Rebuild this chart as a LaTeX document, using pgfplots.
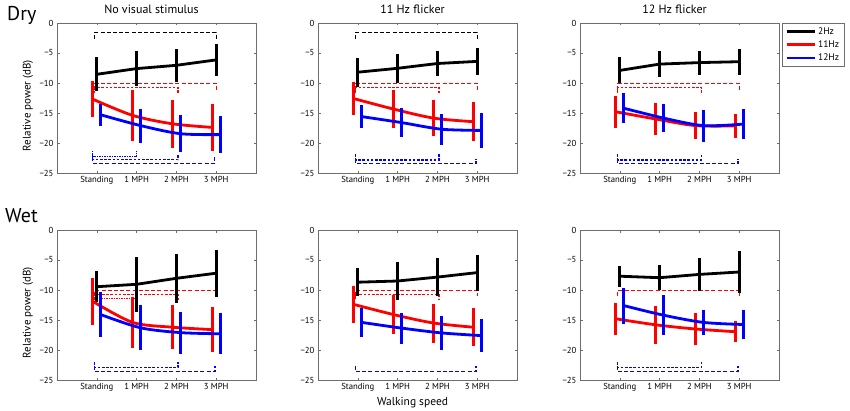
\documentclass[border=0pt]{standalone}
\usepackage{pgfplots}
\pgfplotsset{compat=1.18}
\usepackage{fontspec}
\setmainfont{PT Sans}
\definecolor{mred}{RGB}{255,0,0}
\definecolor{mblue}{RGB}{0,0,255}
\definecolor{frm}{RGB}{110,110,110}
\pgfplotsset{
 panel/.style={
  scale only axis, width=199pt, height=150pt,
  xmin=0, xmax=5, ymin=-25, ymax=0,
  xtick={1,2,3,4}, xticklabels={Standing,1 MPH,2 MPH,3 MPH},
  ytick={-25,-20,-15,-10,-5,0},
  yticklabels={−25,−20,−15,−10,−5,0},
  tick align=inside, major tick length=2.5pt,
  axis line style={frm, line width=0.6pt},
  every tick/.style={frm, line width=0.6pt},
  tick label style={font=\fontsize{8.7}{10}\selectfont},
  title style={font=\fontsize{12}{14}\selectfont, at={(0.475,1)}, anchor=south, yshift=0pt},
  ylabel style={font=\fontsize{11}{13}\selectfont, at={(axis description cs:-0.146,0.45)}, anchor=center},
 },
 dat/.style={line width=2.8pt, mark=none, forget plot,
   error bars/y dir=both, error bars/y explicit, error bars/error mark=none,
   error bars/error bar style={line width=3pt, solid}},
 br/.style={line width=1.3pt, mark=none, forget plot},
 longd/.style={br, dash pattern=on 4pt off 2.2pt},
 shortd/.style={br, dash pattern=on 2.6pt off 1.6pt},
 dotd/.style={br, dash pattern=on 1.3pt off 1.2pt},
}
\begin{document}
\begin{tikzpicture}
\path[use as bounding box] (0,0) rectangle (850pt,410pt);

% ---------------- Dry, No visual stimulus
\begin{axis}[panel, at={(57pt,237pt)}, anchor=south west,
  title={No visual stimulus}, ylabel={Relative power (dB)}]
\addplot[draw=black, longd] coordinates {(0.95,-2.65) (0.95,-1.55) (4,-1.55) (4,-2.65)};
\addplot[draw=mred, longd] coordinates {(0.95,-11.1) (0.95,-10.05) (4,-10.05) (4,-11.1)};
\addplot[draw=mred, shortd] coordinates {(0.95,-11.7) (0.95,-10.7) (3.04,-10.7) (3.04,-11.7)};
\addplot[draw=mblue, dotd] coordinates {(0.9,-21.3) (0.9,-22.3) (2,-22.3) (2,-21.3)};
\addplot[draw=mblue, shortd] coordinates {(0.9,-21.9) (0.9,-22.8) (3.04,-22.8) (3.04,-21.9)};
\addplot[draw=mblue, longd] coordinates {(0.9,-22.4) (0.9,-23.4) (3.95,-23.4) (3.95,-22.4)};
\addplot[black, dat] coordinates {(1,-8.55) +- (0,2.8) (2,-7.6) +- (0,2.85) (3,-7.05) +- (0,2.75) (4,-6.15) +- (0,2.65)};
\addplot[mred, smooth, dat] coordinates {(0.9,-12.7) +- (0,3.0) (1.9,-15.4) +- (0,4.3) (2.9,-16.8) +- (0,4.0) (3.9,-17.4) +- (0,3.9)};
\addplot[mblue, smooth, dat] coordinates {(1.1,-15.3) +- (0,1.8) (2.1,-17.1) +- (0,2.85) (3.1,-18.45) +- (0,3.1) (4.1,-18.6) +- (0,3.1)};
\end{axis}

% ---------------- Dry, 11 Hz flicker
\begin{axis}[panel, at={(318pt,237pt)}, anchor=south west, title={11 Hz flicker}]
\addplot[draw=black, longd] coordinates {(0.95,-2.65) (0.95,-1.55) (4,-1.55) (4,-2.65)};
\addplot[draw=mred, longd] coordinates {(0.95,-11.1) (0.95,-10.05) (4,-10.05) (4,-11.1)};
\addplot[draw=mred, shortd] coordinates {(0.95,-11.65) (0.95,-10.7) (3.04,-10.7) (3.04,-11.65)};
\addplot[draw=mblue, shortd] coordinates {(0.95,-21.85) (0.95,-22.85) (3.04,-22.85) (3.04,-21.85)};
\addplot[draw=mblue, longd] coordinates {(0.95,-22.6) (0.95,-23.45) (3.97,-23.45) (3.97,-22.6)};
\addplot[black, dat] coordinates {(1,-8.2) +- (0,2.4) (2,-7.55) +- (0,2.4) (3,-6.75) +- (0,2.05) (4,-6.4) +- (0,2.2)};
\addplot[mred, smooth, dat] coordinates {(0.9,-12.6) +- (0,2.7) (1.9,-14.35) +- (0,3.15) (2.9,-15.85) +- (0,3.05) (3.9,-16.45) +- (0,3.25)};
\addplot[mblue, smooth, dat] coordinates {(1.1,-15.6) +- (0,1.9) (2.1,-16.6) +- (0,2.4) (3.1,-17.7) +- (0,2.6) (4.1,-17.9) +- (0,2.9)};
\end{axis}

% ---------------- Dry, 12 Hz flicker
\begin{axis}[panel, at={(580pt,237pt)}, anchor=south west, title={12 Hz flicker},
  legend style={at={(1.015,1)}, anchor=north west, draw=frm, line width=0.6pt,
    font=\fontsize{9.5}{11}\selectfont, inner xsep=3pt, inner ysep=2pt, row sep=1pt, cells={anchor=west}},
  legend image code/.code={\draw[#1] (0pt,0pt) -- (28pt,0pt);}]
\addlegendimage{black, line width=2.8pt}
\addlegendentry{2Hz}
\addlegendimage{mred, line width=2.8pt}
\addlegendentry{11Hz}
\addlegendimage{mblue, line width=2.8pt}
\addlegendentry{12Hz}
\addplot[draw=mred, longd] coordinates {(0.95,-11.1) (0.95,-10.05) (4,-10.05) (4,-11.1)};
\addplot[draw=mred, shortd] coordinates {(0.95,-11.65) (0.95,-10.7) (3.05,-10.7) (3.05,-11.65)};
\addplot[draw=mblue, shortd] coordinates {(0.95,-21.85) (0.95,-22.85) (3.05,-22.85) (3.05,-21.85)};
\addplot[draw=mblue, longd] coordinates {(0.95,-22.6) (0.95,-23.45) (3.97,-23.45) (3.97,-22.6)};
\addplot[black, dat] coordinates {(1,-7.9) +- (0,2.15) (2,-6.85) +- (0,2.15) (3,-6.6) +- (0,2.0) (4,-6.45) +- (0,2.15)};
\addplot[mred, smooth, dat] coordinates {(0.9,-14.8) +- (0,2.7) (1.9,-16.0) +- (0,2.7) (2.9,-17.1) +- (0,2.25) (3.9,-17.15) +- (0,2.05)};
\addplot[mblue, smooth, dat] coordinates {(1.1,-14.2) +- (0,2.5) (2.1,-15.85) +- (0,2.35) (3.1,-17.1) +- (0,2.65) (4.1,-16.85) +- (0,2.5)};
\end{axis}

% ---------------- Wet, No visual stimulus
\begin{axis}[panel, at={(57pt,30pt)}, anchor=south west, ylabel={Relative power (dB)}]
\addplot[draw=mred, longd] coordinates {(0.95,-11.0) (0.95,-10.05) (4,-10.05) (4,-11.0)};
\addplot[draw=mred, shortd] coordinates {(0.95,-11.6) (0.95,-10.7) (3.04,-10.7) (3.04,-11.6)};
\addplot[draw=mred, dotd] coordinates {(0.95,-12.0) (0.95,-11.4) (2,-11.4) (2,-12.0)};
\addplot[draw=mblue, shortd] coordinates {(0.95,-22.0) (0.95,-22.9) (3.04,-22.9) (3.04,-22.0)};
\addplot[draw=mblue, longd] coordinates {(0.95,-22.6) (0.95,-23.6) (3.97,-23.6) (3.97,-22.6)};
\addplot[black, dat] coordinates {(1,-9.45) +- (0,2.6) (2,-9.05) +- (0,4.55) (3,-8.05) +- (0,4.1) (4,-7.2) +- (0,3.9)};
\addplot[mred, smooth, dat] coordinates {(0.9,-11.9) +- (0,3.95) (1.9,-15.4) +- (0,4.2) (2.9,-16.2) +- (0,3.65) (3.9,-16.6) +- (0,3.8)};
\addplot[mblue, smooth, dat] coordinates {(1.1,-14.1) +- (0,3.8) (2.1,-16.3) +- (0,3.75) (3.1,-17.1) +- (0,3.5) (4.1,-17.3) +- (0,3.4)};
\end{axis}

% ---------------- Wet, 11 Hz flicker
\begin{axis}[panel, at={(318pt,30pt)}, anchor=south west, xlabel={Walking speed},
  xlabel style={font=\fontsize{11.5}{13}\selectfont, at={(axis description cs:0.475,0)}, anchor=base, yshift=-25pt}]
\addplot[draw=mred, longd] coordinates {(0.95,-11.0) (0.95,-10.05) (4,-10.05) (4,-11.0)};
\addplot[draw=mred, shortd] coordinates {(0.95,-11.5) (0.95,-10.7) (3.04,-10.7) (3.04,-11.5)};
\addplot[draw=mblue, longd] coordinates {(0.95,-22.6) (0.95,-23.6) (3.97,-23.6) (3.97,-22.6)};
\addplot[black, dat] coordinates {(1,-8.7) +- (0,2.3) (2,-8.5) +- (0,3.1) (3,-7.85) +- (0,3.2) (4,-7.1) +- (0,3.0)};
\addplot[mred, smooth, dat] coordinates {(0.9,-12.4) +- (0,3.15) (1.9,-14.1) +- (0,3.3) (2.9,-15.5) +- (0,3.25) (3.9,-16.2) +- (0,3.2)};
\addplot[mblue, smooth, dat] coordinates {(1.1,-15.4) +- (0,2.4) (2.1,-16.35) +- (0,2.6) (3.1,-17.15) +- (0,2.8) (4.1,-17.6) +- (0,2.8)};
\end{axis}

% ---------------- Wet, 12 Hz flicker
\begin{axis}[panel, at={(580pt,30pt)}, anchor=south west]
\addplot[draw=mred, longd] coordinates {(0.95,-11.0) (0.95,-10.05) (4,-10.05) (4,-11.0)};
\addplot[draw=mblue, shortd] coordinates {(0.95,-22.0) (0.95,-22.9) (3.05,-22.9) (3.05,-22.0)};
\addplot[draw=mblue, longd] coordinates {(0.95,-22.6) (0.95,-23.6) (3.97,-23.6) (3.97,-22.6)};
\addplot[black, dat] coordinates {(1,-7.7) +- (0,1.75) (2,-7.95) +- (0,2.1) (3,-7.4) +- (0,2.8) (4,-7.0) +- (0,3.5)};
\addplot[mred, smooth, dat] coordinates {(0.9,-14.8) +- (0,2.65) (1.9,-15.8) +- (0,3.2) (2.9,-16.5) +- (0,2.6) (3.9,-16.95) +- (0,1.75)};
\addplot[mblue, smooth, dat] coordinates {(1.1,-12.6) +- (0,3.0) (2.1,-14.2) +- (0,3.35) (3.1,-15.4) +- (0,2.1) (4.1,-15.75) +- (0,2.4)};
\end{axis}

\node[anchor=base west, font=\fontsize{20}{24}\selectfont, inner sep=0pt] at (7pt,389pt) {Dry};
\node[anchor=base west, font=\fontsize{20}{24}\selectfont, inner sep=0pt] at (5pt,188pt) {Wet};
\end{tikzpicture}
\end{document}
